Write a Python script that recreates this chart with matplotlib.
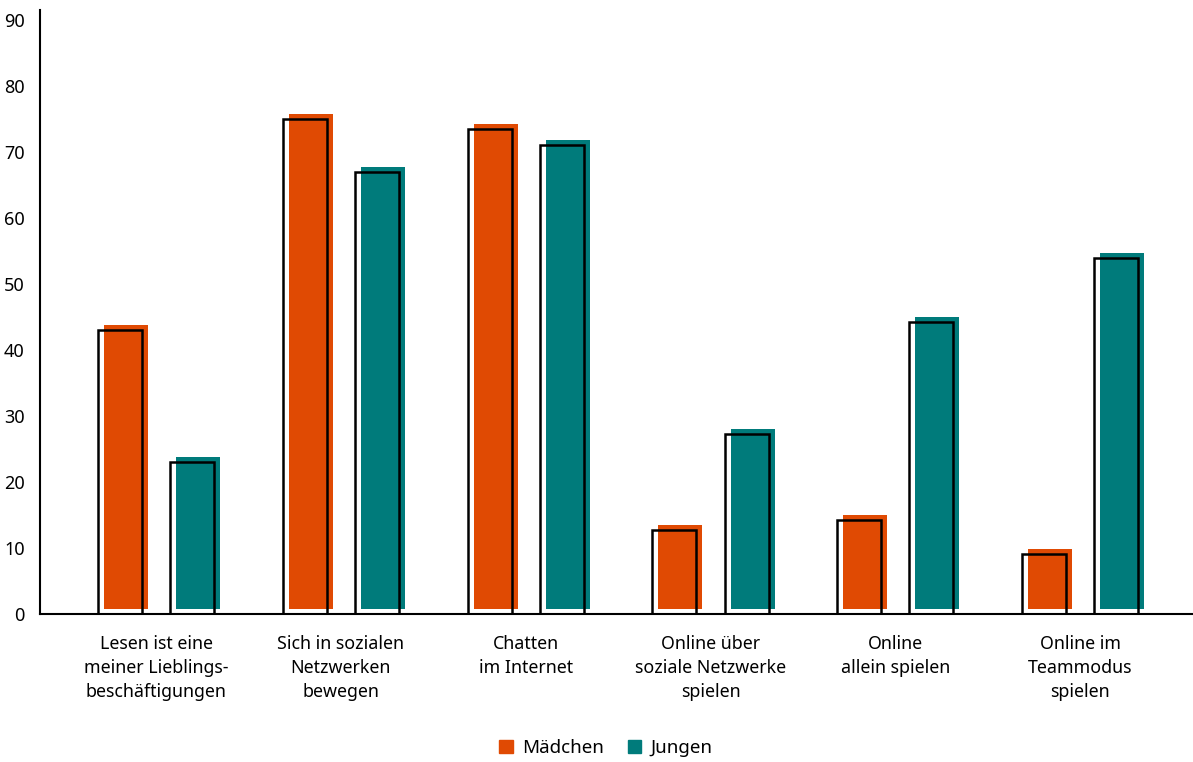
import numpy as np
import matplotlib.pyplot as plt
import matplotlib.transforms as mtransforms
from matplotlib.patches import Patch

plt.rcParams['font.family'] = ['Noto Sans', 'DejaVu Sans']

# Daten
kategorien = ['Lesen ist eine\nmeiner Lieblings-\nbeschäftigungen',
              'Sich in sozialen\nNetzwerken\nbewegen',
              'Chatten\nim Internet',
              'Online über\nsoziale Netzwerke\nspielen',
              'Online\nallein spielen',
              'Online im\nTeammodus\nspielen']
maedchen = [43, 75, 73.5, 12.7, 14.2, 9.1]
jungen = [23, 67, 71, 27.3, 44.2, 54]

farbe_m = '#E04A03'
farbe_j = '#007B7B'

fig = plt.figure(figsize=(11.93, 7.62), dpi=100)
ax = fig.add_axes([40 / 1193, 148 / 762, 1 - 40 / 1193, 604 / 762])

x = np.arange(len(kategorien))
w = 0.238
off = 0.195

# Schatten-Versatz der gefüllten Balken (rechts/oben)
shift = ax.transData + mtransforms.ScaledTranslation(6 / 100, 5 / 100, fig.dpi_scale_trans)

ax.bar(x - off, maedchen, w, color=farbe_m, transform=shift, zorder=2)
ax.bar(x + off, jungen, w, color=farbe_j, transform=shift, zorder=2)
ax.bar(x - off, maedchen, w, fill=False, edgecolor='black', lw=1.8, zorder=3)
ax.bar(x + off, jungen, w, fill=False, edgecolor='black', lw=1.8, zorder=3)

ax.set_xlim(-0.628, 5.611)
ax.set_ylim(0, 91.5)
ax.set_yticks(range(0, 91, 10))
ax.set_xticks(x)
ax.set_xticklabels(kategorien, fontsize=12.8, linespacing=1.45)
ax.tick_params(axis='y', length=0, pad=11, labelsize=13)
ax.tick_params(axis='x', length=0, pad=15)

for s in ['top', 'right']:
    ax.spines[s].set_visible(False)
ax.spines['left'].set_linewidth(1.5)
ax.spines['bottom'].set_linewidth(1.5)

handles = [Patch(color=farbe_m, label='Mädchen'), Patch(color=farbe_j, label='Jungen')]
fig.legend(handles=handles, loc='lower center', bbox_to_anchor=(0.508, -0.016), ncol=2,
           frameon=False, fontsize=13.5, handlelength=0.7, handleheight=0.7,
           handletextpad=0.5, columnspacing=1.3)

fig.savefig('out.png', dpi=100)
